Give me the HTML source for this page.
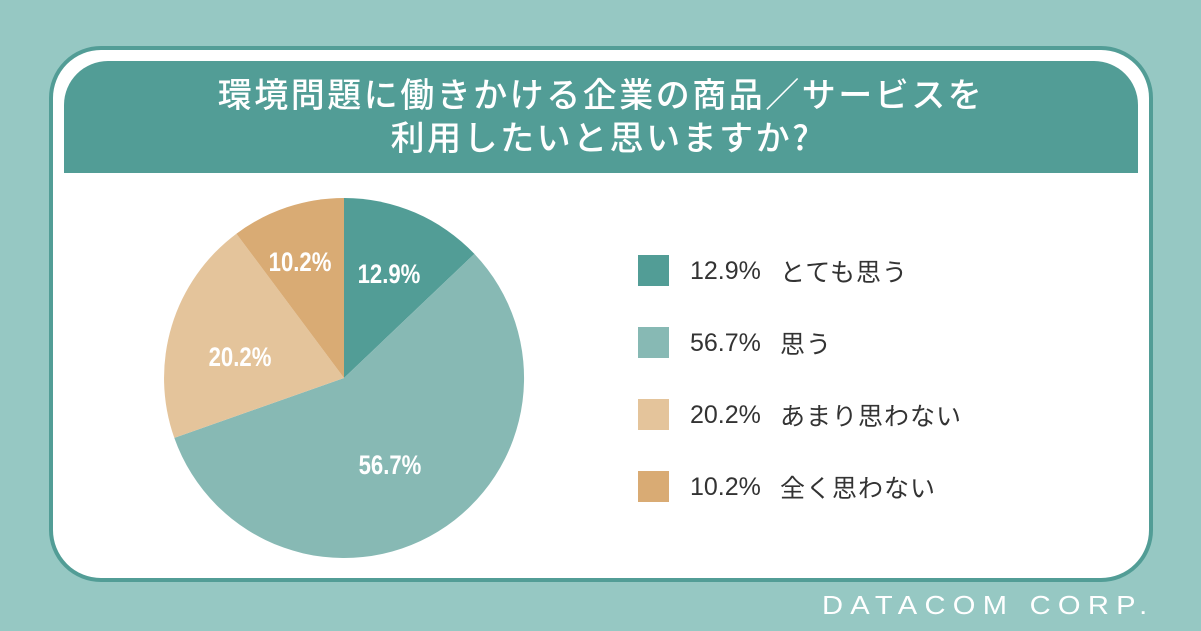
<!DOCTYPE html>
<html><head><meta charset="utf-8"><style>
html,body{margin:0;padding:0;}
body{width:1201px;height:631px;background:#96c8c3;position:relative;overflow:hidden;font-family:"Liberation Sans","Noto Sans CJK JP",sans-serif;}
.card{position:absolute;left:49px;top:46px;width:1096px;height:528px;background:#fff;border:4px solid #529d96;border-radius:52px;}
.head{position:absolute;left:64px;top:61px;width:1074px;height:112px;background:#529d96;border-radius:44px 44px 0 0;color:#fff;text-align:center;font-size:34px;letter-spacing:2.5px;line-height:43px;padding-top:10px;box-sizing:border-box;font-family:"Noto Sans CJK JP",sans-serif;font-weight:500;}
.sq{position:absolute;left:638px;width:31px;height:31px;}
.lt{position:absolute;left:690px;font-size:25px;color:#333;line-height:30px;font-family:"Liberation Sans","Noto Sans CJK JP",sans-serif;}
.lt span{position:absolute;left:90px;white-space:nowrap;font-family:"Noto Sans CJK JP",sans-serif;letter-spacing:1px;}
.foot{position:absolute;left:822px;top:590px;color:#fff;font-size:26px;letter-spacing:6.5px;transform:scaleX(1.12);transform-origin:left;white-space:nowrap;}
</style></head><body>
<div class="card"></div>
<div class="head">環境問題に働きかける企業の商品／サービスを<br>利用したいと思いますか?</div>
<svg style="position:absolute;left:0;top:0" width="1201" height="631">
<path d="M344,378 L344,198 A180,180 0 0 1 474.4,253.9 Z" fill="#529d96"/>
<path d="M344,378 L474.4,253.9 A180,180 0 1 1 174.3,437.9 Z" fill="#87b9b4"/>
<path d="M344,378 L174.3,437.9 A180,180 0 0 1 236.4,233.7 Z" fill="#e4c49b"/>
<path d="M344,378 L236.4,233.7 A180,180 0 0 1 344,198 Z" fill="#d9ab74"/>
<g fill="#fff" font-family="Liberation Sans, sans-serif" font-weight="bold" font-size="27" text-anchor="middle">
<text x="389" y="283" transform="scale(0.82,1) translate(85.4,0)">12.9%</text>
<text x="390" y="474" transform="scale(0.82,1) translate(85.6,0)">56.7%</text>
<text x="240" y="366" transform="scale(0.82,1) translate(52.7,0)">20.2%</text>
<text x="300" y="271" transform="scale(0.82,1) translate(65.9,0)">10.2%</text>
</g>
</svg>
<div class="sq" style="top:255px;background:#529d96"></div>
<div class="sq" style="top:327px;background:#87b9b4"></div>
<div class="sq" style="top:399px;background:#e4c49b"></div>
<div class="sq" style="top:471px;background:#d9ab74"></div>
<div class="lt" style="top:256px">12.9%<span>とても思う</span></div>
<div class="lt" style="top:328px">56.7%<span>思う</span></div>
<div class="lt" style="top:400px">20.2%<span>あまり思わない</span></div>
<div class="lt" style="top:472px">10.2%<span>全く思わない</span></div>
<div class="foot">DATACOM CORP.</div>
</body></html>
